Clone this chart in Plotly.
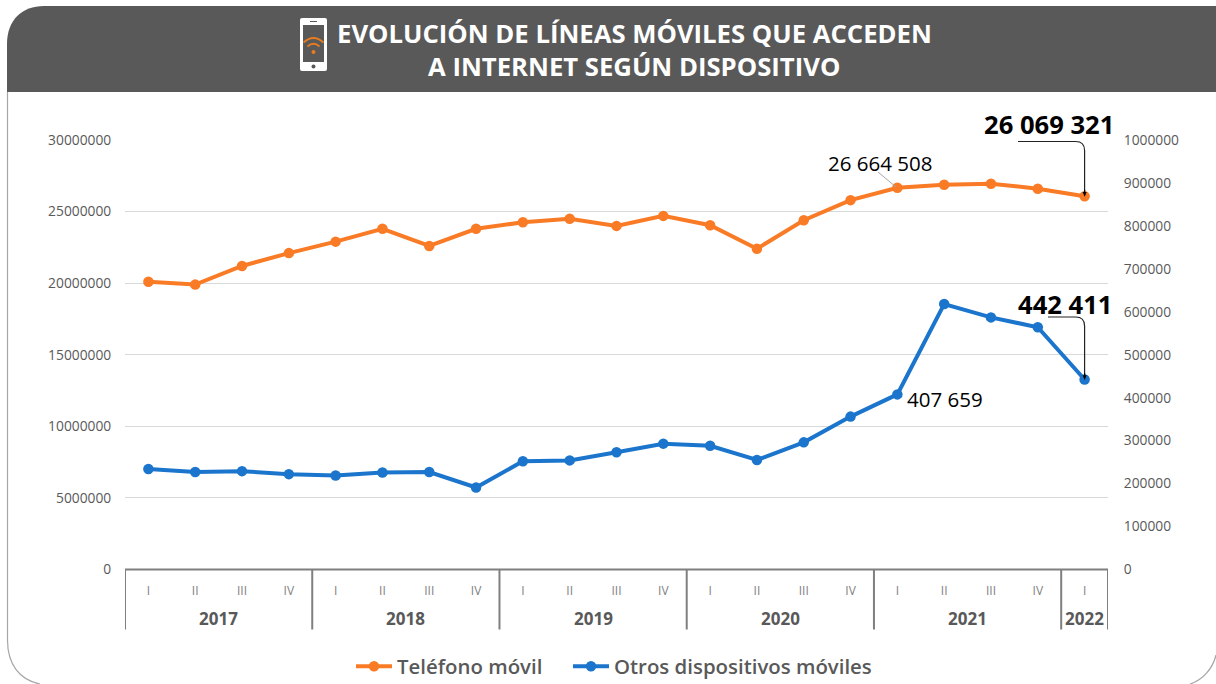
import plotly.graph_objects as go

W, H = 1216, 684
quarters = ["I","II","III","IV","I","II","III","IV","I","II","III","IV","I","II","III","IV","I","II","III","IV","I"]
years = ["2017","2018","2019","2020","2021","2022"]
year_counts = [4,4,4,4,4,1]
telefono = [20100000,19900000,21200000,22100000,22900000,23800000,22600000,23800000,24250000,24500000,24000000,24700000,24050000,22400000,24400000,25800000,26664508,26880000,26950000,26600000,26069321]
otros = [234000,227000,229000,222000,219000,226000,227000,191000,252000,254000,273000,293000,288000,255000,296000,356000,407659,618000,587000,564000,442411]
left_ticks = [0,5000000,10000000,15000000,20000000,25000000,30000000]
right_ticks = [0,100000,200000,300000,400000,500000,600000,700000,800000,900000,1000000]

ORANGE, BLUE, GREY = "#F97B26", "#1B75CC", "#595959"
PX_L, PX_R, PX_T, PX_B = 125, 1108, 140, 569.5
def fx(px): return px / W
def fy(py): return 1 - py / H

x = list(range(len(quarters)))
fig = go.Figure()
fig.add_trace(go.Scatter(x=x, y=telefono, name="Teléfono móvil", mode="lines+markers", legend="legend", showlegend=True,
    line=dict(color=ORANGE, width=4), marker=dict(color=ORANGE, size=10.5)))
fig.add_trace(go.Scatter(x=x, y=otros, name="Otros dispositivos móviles", mode="lines+markers", yaxis="y2", legend="legend2", showlegend=True,
    line=dict(color=BLUE, width=4), marker=dict(color=BLUE, size=10.5)))

shapes = []
# panel border and header
shapes.append(dict(type="path", xref="paper", yref="paper", layer="below",
    path=f"M {fx(7.5)} {fy(92)} L {fx(7.5)} {fy(640)} C {fx(7.5)} {fy(665)} {fx(20)} {fy(680)} {fx(40)} {fy(684)} "
         f"M {fx(1190)} {fy(684)} C {fx(1203)} {fy(680)} {fx(1213)} {fy(668)} {fx(1216)} {fy(655)}",
    line=dict(color="#A6A6A6", width=1.2)))
shapes.append(dict(type="path", xref="paper", yref="paper", layer="below",
    path=f"M {fx(7)} {fy(92)} L {fx(7)} {fy(44)} C {fx(7)} {fy(20)} {fx(22)} {fy(6)} {fx(44)} {fy(6)} "
         f"L {fx(1216)} {fy(6)} L {fx(1216)} {fy(92)} Z",
    fillcolor=GREY, line=dict(width=0)))
# phone icon
shapes.append(dict(type="path", xref="paper", yref="paper",
    path=f"M {fx(302)} {fy(18)} L {fx(325)} {fy(18)} Q {fx(327)} {fy(18)} {fx(327)} {fy(20)} L {fx(327)} {fy(69)} Q {fx(327)} {fy(71)} {fx(325)} {fy(71)} "
         f"L {fx(302)} {fy(71)} Q {fx(300)} {fy(71)} {fx(300)} {fy(69)} L {fx(300)} {fy(20)} Q {fx(300)} {fy(18)} {fx(302)} {fy(18)} Z",
    fillcolor="white", line=dict(width=0)))
shapes.append(dict(type="rect", xref="paper", yref="paper", x0=fx(303), x1=fx(324), y0=fy(62), y1=fy(25),
    fillcolor=GREY, line=dict(width=0)))
for r, cy, lw in [(10, 42.5, 1.8), (6, 46.5, 1.8)]:
    shapes.append(dict(type="path", xref="paper", yref="paper",
        path=f"M {fx(313.5-r)} {fy(cy)} Q {fx(313.5)} {fy(cy-r*0.9)} {fx(313.5+r)} {fy(cy)}",
        line=dict(color="#E87C1E", width=lw)))
shapes.append(dict(type="circle", xref="paper", yref="paper", x0=fx(311.5), x1=fx(315.5), y0=fy(54), y1=fy(50),
    fillcolor="#E87C1E", line=dict(width=0)))
shapes.append(dict(type="circle", xref="paper", yref="paper", x0=fx(311.5), x1=fx(315.5), y0=fy(68.5), y1=fy(64.5),
    fillcolor=GREY, line=dict(width=0)))
shapes.append(dict(type="line", xref="paper", yref="paper", x0=fx(310), x1=fx(317), y0=fy(21.5), y1=fy(21.5),
    line=dict(color=GREY, width=1)))

# multi-level axis frame
shapes.append(dict(type="line", xref="x", yref="paper", x0=-0.5, x1=20.5, y0=fy(PX_B), y1=fy(PX_B),
    line=dict(color="#7F7F7F", width=2)))
edge = -0.5
edges = [edge]
annotations = []
for yr, c in zip(years, year_counts):
    annotations.append(dict(xref="x", yref="paper", x=edge + c/2, y=fy(618), text=f"<b>{yr}</b>", showarrow=False,
        font=dict(family="Open Sans", size=17, color=GREY), xanchor="center", yanchor="middle"))
    edge += c
    edges.append(edge)
for e in edges:
    shapes.append(dict(type="line", xref="x", yref="paper", x0=e, x1=e, y0=fy(PX_B), y1=fy(629.5),
        line=dict(color="#7F7F7F", width=2)))

# callouts
last = len(x) - 1
def callout(y_txt_px, x_start_px, y_val, yref):
    px = PX_L + (last + 0.5) / 21 * (PX_R - PX_L)
    ymax = 30000000 if yref == "y" else 1000000
    py = PX_B - y_val / ymax * (PX_B - PX_T)
    shapes.append(dict(type="path", xref="paper", yref="paper",
        path=f"M {fx(x_start_px)} {fy(y_txt_px)} L {fx(px-9)} {fy(y_txt_px)} Q {fx(px)} {fy(y_txt_px)} {fx(px)} {fy(y_txt_px+9)} L {fx(px)} {fy(py)}",
        line=dict(color="#222222", width=1.2)))
    annotations.append(dict(xref="paper", yref="paper", x=fx(px), y=fy(py), ax=0, ay=-8, axref="pixel", ayref="pixel",
        showarrow=True, arrowhead=2, arrowsize=0.7, arrowwidth=1.2, arrowcolor="#000000", text=""))
callout(141.5, 1018, telefono[-1], "y")
callout(317, 1048, otros[-1], "y2")
shapes.append(dict(type="line", xref="paper", yref="paper", x0=fx(878), x1=fx(896), y0=fy(172), y1=fy(187),
    line=dict(color="#A6A6A6", width=1)))

def label(text, px, py, size, bold=False):
    annotations.append(dict(xref="paper", yref="paper", x=fx(px), y=fy(py), text=f"<b>{text}</b>" if bold else text,
        showarrow=False, xanchor="right", yanchor="middle",
        font=dict(family="Open Sans", size=size, color="#000000")))
label("26 069 321", 1115.5, 125, 25.6, True)
label("442 411", 1113.5, 304, 25.6, True)
label("26 664 508", 934, 163, 20.5)
label("407 659", 985, 399, 20.5)

# title
for txt, cy in [("EVOLUCIÓN DE LÍNEAS MÓVILES QUE ACCEDEN", 34), ("A INTERNET SEGÚN DISPOSITIVO", 66.5)]:
    annotations.append(dict(xref="paper", yref="paper", x=fx(634), y=fy(cy), text=f"<b>{txt}</b>",
        showarrow=False, xanchor="center", yanchor="middle", align="center", borderpad=0,
        font=dict(family="Open Sans", size=25.7, color="white")))

legend_font = dict(family="Open Sans", size=20.4, color=GREY, weight=600)
fig.update_layout(
    width=W, height=H, autosize=False, margin=dict(l=0, r=0, t=0, b=0, autoexpand=False), showlegend=True,
    paper_bgcolor="white", plot_bgcolor="white", shapes=shapes, annotations=annotations,
    xaxis=dict(domain=[fx(PX_L), fx(PX_R)], range=[-0.5, 20.5], tickmode="array", tickvals=x, ticktext=quarters,
        showgrid=False, zeroline=False, showline=False, ticks="outside", ticklen=10, tickcolor="rgba(0,0,0,0)",
        tickfont=dict(family="Open Sans", size=12, color="#7F7F7F")),
    yaxis=dict(domain=[fy(PX_B), fy(PX_T)], range=[0, 30000000], tickmode="array", tickvals=left_ticks,
        ticktext=[str(v) for v in left_ticks], showgrid=True, gridcolor="#D9D9D9", gridwidth=1.3, zeroline=False,
        ticks="outside", ticklen=10, tickcolor="rgba(0,0,0,0)", tickfont=dict(family="Open Sans", size=13.8, color=GREY)),
    yaxis2=dict(domain=[fy(PX_B), fy(PX_T)], overlaying="y", side="right", range=[0, 1000000], tickmode="array", tickvals=right_ticks,
        ticktext=[str(v) for v in right_ticks], showgrid=False, zeroline=False,
        ticks="outside", ticklen=12, tickcolor="rgba(0,0,0,0)", tickfont=dict(family="Open Sans", size=13.8, color=GREY)),
    legend=dict(orientation="h", x=fx(351), y=fy(666.5), xanchor="left", yanchor="middle",
        font=legend_font, itemwidth=36, bgcolor="rgba(0,0,0,0)"),
    legend2=dict(orientation="h", x=fx(568), y=fy(666.5), xanchor="left", yanchor="middle",
        font=legend_font, itemwidth=36, bgcolor="rgba(0,0,0,0)"),
)
fig.write_html("out.html", config=dict(displayModeBar=False),
    post_script="document.body.style.margin='0';document.documentElement.style.overflow='hidden';")
